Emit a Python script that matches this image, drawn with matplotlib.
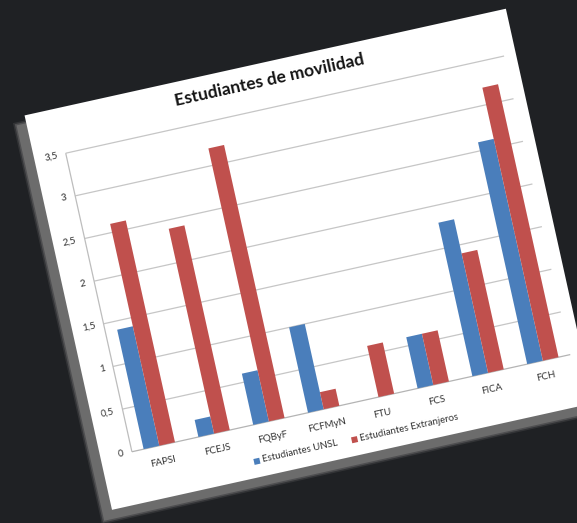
import numpy as np
import matplotlib.pyplot as plt
from matplotlib.patches import Rectangle
from matplotlib.transforms import Affine2D

# Data
categories = ['FAPSI', 'FCEJS', 'FQByF', 'FCFMyN', 'FTU', 'FCS', 'FICA', 'FCH']
unsl = [1.4, 0.2, 0.6, 1.0, 0.0, 0.6, 1.8, 2.6]
extranjeros = [2.6, 2.4, 3.2, 0.2, 0.6, 0.6, 1.4, 3.2]
y_ticks = [0, 0.5, 1, 1.5, 2, 2.5, 3, 3.5]
y_tick_labels = ['0', '0,5', '1', '1,5', '2', '2,5', '3', '3,5']
series_names = ['Estudiantes UNSL', 'Estudiantes Extranjeros']
series_colours = ['#4a7ebb', '#c0504d']
title = 'Estudiantes de movilidad'

W, H = 577, 523
ANGLE = 12.5
plt.rcParams['font.family'] = ['Lato', 'DejaVu Sans']

fig = plt.figure(figsize=(W / 100, H / 100), dpi=100)
fig.patch.set_facecolor('#1f2124')

# whole chart card is tilted, rotate around the image's top-left corner (in inches)
tilt = (fig.dpi_scale_trans.inverted()
        + Affine2D().rotate_deg_around(0, H / 100, ANGLE)
        + fig.dpi_scale_trans)
# card coordinates: unrotated pixels, v pointing down
card_px = (Affine2D().scale(0.01, -0.01).translate(0, H / 100)
           .rotate_deg_around(0, H / 100, ANGLE) + fig.dpi_scale_trans)

# plot area in unrotated pixels
u0, u1, v_top, v_bot = 31, 480, 163.8, 469.6
ax = fig.add_axes([u0 / W, (H - v_bot) / H, (u1 - u0) / W, (v_bot - v_top) / H])
ax.set_xlim(-0.5, len(categories) - 0.5)
ax.set_ylim(0, 3.5)
ax.axis('off')
data_tf = ax.transData + tilt

# shadow + white card
for grow, alpha in [(3, 0.25), (1.5, 0.5), (0, 1.0)]:
    ax.add_patch(Rectangle((-11 - grow, 126 - grow), 493 + 2 * grow, 405 + 2 * grow,
                           facecolor='#6c6c6c', edgecolor='none', alpha=alpha,
                           transform=card_px, clip_on=False, zorder=-3))
ax.add_patch(Rectangle((-1, 118), 493, 404, facecolor='white', edgecolor='none',
                       transform=card_px, clip_on=False, zorder=-2))

# gridlines and axes
ax.hlines(y_ticks[1:], -0.5, len(categories) - 0.5, colors='#c6c6c6', linewidth=0.9,
          transform=data_tf, clip_on=False, zorder=0)
ax.vlines(-0.5, 0, 3.5, colors='#bdbdbd', linewidth=0.9,
          transform=data_tf, clip_on=False, zorder=0)
ax.hlines(0, -0.5, len(categories) - 0.5, colors='#b4b4b4', linewidth=0.9,
          transform=data_tf, clip_on=False, zorder=0)

# bars
x = np.arange(len(categories))
w = 0.286
ax.bar(x - w / 2, unsl, w, color=series_colours[0], transform=data_tf,
       clip_on=False, zorder=1)
ax.bar(x + w / 2, extranjeros, w, color=series_colours[1], transform=data_tf,
       clip_on=False, zorder=1)

# tick labels
for val, lab in zip(y_ticks, y_tick_labels):
    ax.text(-0.5 - 0.15, val, lab, ha='right', va='center', fontsize=7,
            color='#333333', rotation=ANGLE, rotation_mode='anchor', transform=data_tf)
for i, lab in enumerate(categories):
    ax.text(i, -0.19, lab, ha='center', va='center', fontsize=7,
            color='#333333', rotation=ANGLE, rotation_mode='anchor', transform=data_tf)

# title
ax.text(246, 137, title, ha='center', va='center', fontsize=12.5, fontweight='bold',
        color='#141414', rotation=ANGLE, rotation_mode='anchor', transform=card_px)

# legend
for name, col, lu in zip(series_names, series_colours, [151, 251]):
    ax.add_patch(Rectangle((lu - 3, 503), 6, 6, facecolor=col, edgecolor='none',
                           transform=card_px, clip_on=False, zorder=2))
    ax.text(lu + 6, 506, name, ha='left', va='center', fontsize=7, color='#333333',
            rotation=ANGLE, rotation_mode='anchor', transform=card_px)

fig.savefig('out.png', dpi=100, facecolor=fig.get_facecolor())
